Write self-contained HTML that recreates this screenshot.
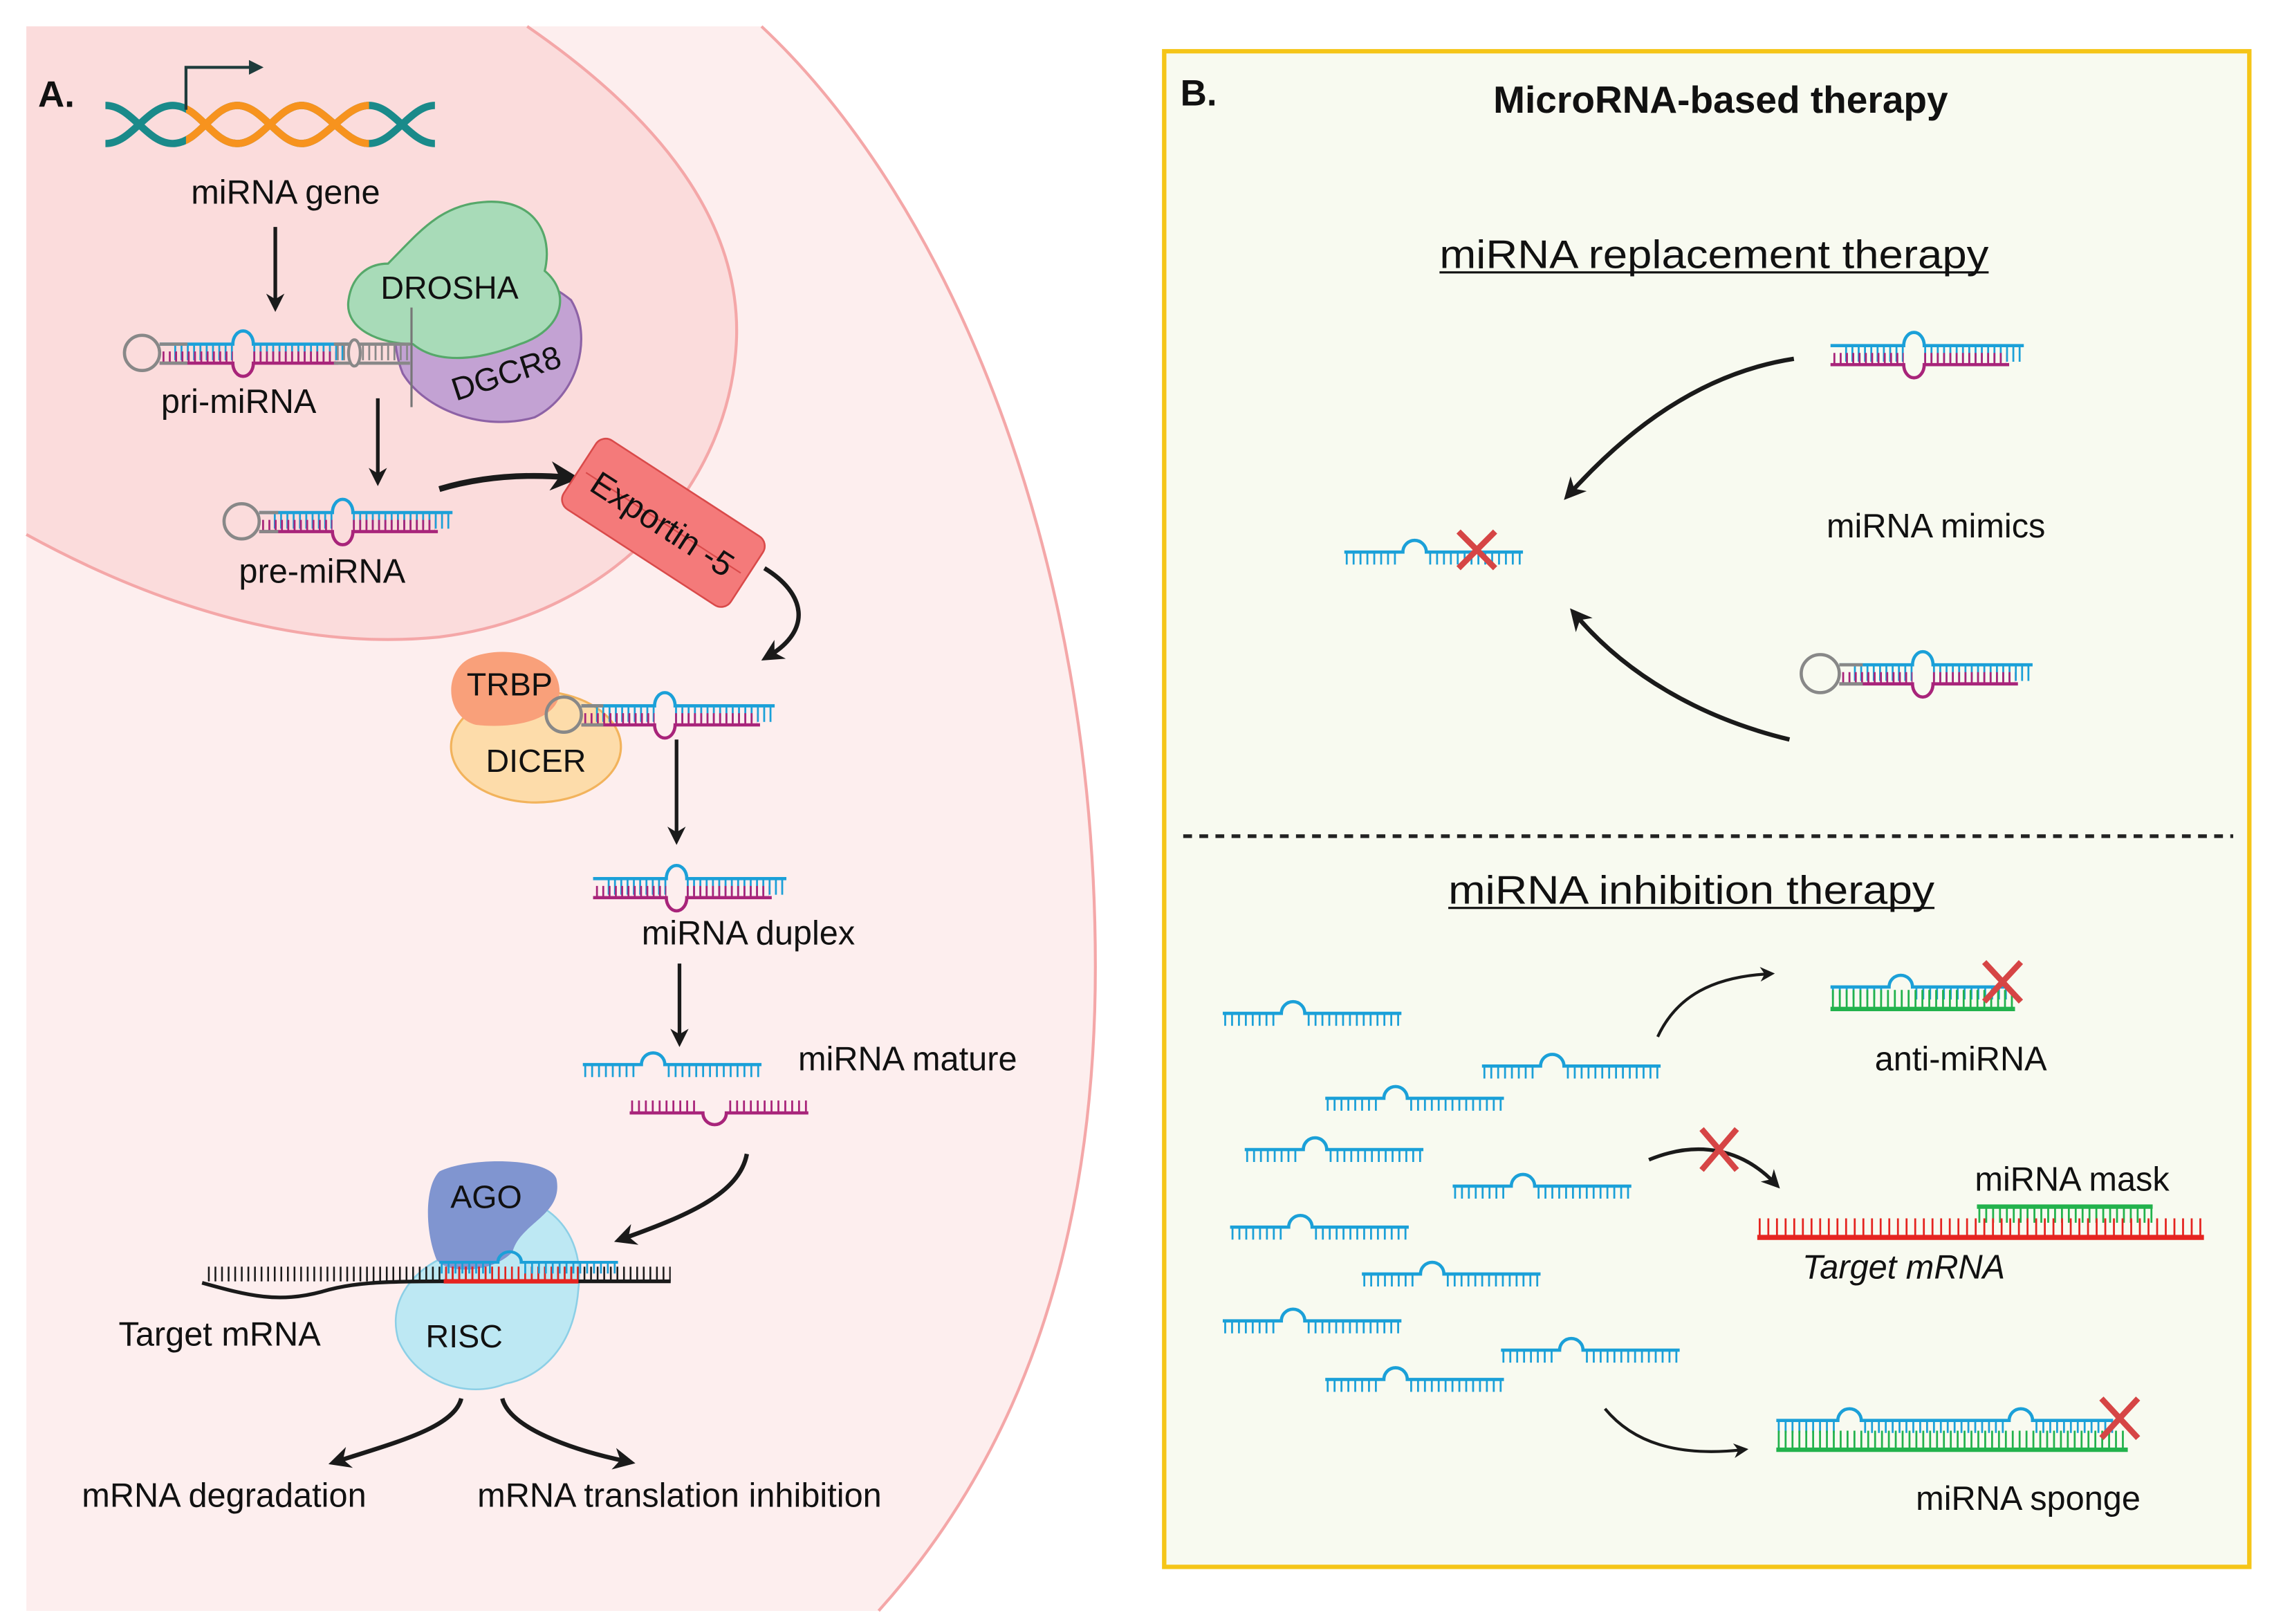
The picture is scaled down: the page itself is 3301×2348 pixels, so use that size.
<!DOCTYPE html>
<html><head><meta charset="utf-8"><style>html,body{margin:0;padding:0;background:#fff}svg{display:block}text{font-family:"Liberation Sans",sans-serif;fill:#111}</style></head><body>
<svg width="3301" height="2348" viewBox="0 0 1559 1109" preserveAspectRatio="none" xmlns="http://www.w3.org/2000/svg">
<defs>
<marker id="ah" viewBox="0 0 10 10" refX="6" refY="5" markerWidth="5" markerHeight="5" orient="auto"><path d="M0,0L10,5L0,10L3,5z" fill="#1a1a1a"/></marker>
<symbol id="mir" overflow="visible"><path d="M0,0H40A8,8 0 0 1 56,0H122" fill="none" stroke="#1ba0d8" stroke-width="2.2"/><line x1="1" x2="38" y1="4.5" y2="4.5" stroke="#1ba0d8" stroke-width="8" stroke-dasharray="1.3 3.4"/><line x1="58" x2="122" y1="4.5" y2="4.5" stroke="#1ba0d8" stroke-width="8" stroke-dasharray="1.3 3.4"/></symbol>
<symbol id="dup" overflow="visible"><path d="M0,0H50A7,9 0 0 1 64,0H132" fill="none" stroke="#1ba0d8" stroke-width="2.2"/><line x1="10" x2="50" y1="6" y2="6" stroke="#1ba0d8" stroke-width="10" stroke-dasharray="1.3 3"/><line x1="64" x2="130" y1="6" y2="6" stroke="#1ba0d8" stroke-width="10" stroke-dasharray="1.3 3"/><path d="M0,13H50A7,9 0 0 0 64,13H122" fill="none" stroke="#a8247a" stroke-width="2.2"/><line x1="2" x2="50" y1="9" y2="9" stroke="#a8247a" stroke-width="8" stroke-dasharray="1.3 3"/><line x1="64" x2="120" y1="9" y2="9" stroke="#a8247a" stroke-width="8" stroke-dasharray="1.3 3"/></symbol>
<clipPath id="mid"><rect x="127" y="60" width="125" height="50"/></clipPath>
</defs>
<path d="M18,18H520C650,140 748,380 748,660C748,860 690,1000 600,1100H18Z" fill="#fdeeee"/>
<path d="M520,18C650,140 748,380 748,660C748,860 690,1000 600,1100" fill="none" stroke="#f4a7a8" stroke-width="2"/>
<path d="M18,18H360C450,80 505,150 503,230C500,330 420,420 300,435C200,445 100,410 18,365Z" fill="#fbdcdc"/>
<path d="M360,18C450,80 505,150 503,230C500,330 420,420 300,435C200,445 100,410 18,365" fill="none" stroke="#f4a7a8" stroke-width="2"/>
<text x="26" y="73" font-size="25" font-weight="bold">A.</text>
<g fill="none" stroke-width="5">
<path d="M72,98C90,98 100,72 118,72S145,98 162,98S190,72 206,72S235,98 252,98S280,72 297,72" stroke="#1a8a8a"/>
<path d="M72,72C90,72 100,98 118,98S145,72 162,72S190,98 206,98S235,72 252,72S280,98 297,98" stroke="#1a8a8a"/>
<g clip-path="url(#mid)"><path d="M72,98C90,98 100,72 118,72S145,98 162,98S190,72 206,72S235,98 252,98S280,72 297,72" stroke="#f7931e"/><path d="M72,72C90,72 100,98 118,98S145,72 162,72S190,98 206,98S235,72 252,72S280,98 297,98" stroke="#f7931e"/></g>
</g>
<path d="M127,75V46H172" fill="none" stroke="#1e3c3c" stroke-width="2"/><path d="M170,41L180,46L170,51z" fill="#1e3c3c"/>
<text x="195" y="139" font-size="23" text-anchor="middle">miRNA gene</text>
<line x1="188" y1="155" x2="188" y2="208" stroke="#1a1a1a" stroke-width="2.5" marker-end="url(#ah)"/>
<path d="M285,180C300,175 360,180 390,205C405,230 395,270 365,285C330,295 290,280 275,255C265,230 270,200 285,180Z" fill="#c3a2d3" stroke="#8d62a6" stroke-width="1.5"/>
<path d="M265,180C285,160 300,140 330,138C365,135 378,160 372,185C390,200 385,225 355,235C330,245 300,250 282,235C260,235 235,225 238,205C240,190 250,180 265,180Z" fill="#a8dbb8" stroke="#56a86a" stroke-width="1.5"/>
<text x="307" y="204" font-size="22" text-anchor="middle">DROSHA</text>
<text x="348" y="262" font-size="22" text-anchor="middle" transform="rotate(-18 348 262)">DGCR8</text>
<circle cx="97" cy="241" r="12" fill="none" stroke="#888" stroke-width="2.2"/>
<use href="#dup" x="109" y="235"/>
<line x1="109" x2="128" y1="235" y2="235" stroke="#888" stroke-width="2.2"/><line x1="109" x2="128" y1="248" y2="248" stroke="#888" stroke-width="2.2"/>
<path d="M228,235H280M228,248H280" stroke="#888" stroke-width="2.2"/><line x1="230" x2="280" y1="241" y2="241" stroke="#888" stroke-width="10" stroke-dasharray="1.3 3"/>
<ellipse cx="242" cy="241" rx="4" ry="9" fill="#fbdcdc" stroke="#888" stroke-width="2"/>
<line x1="281" y1="210" x2="281" y2="278" stroke="#777" stroke-width="1.5"/>
<text x="163" y="282" font-size="23" text-anchor="middle">pri-miRNA</text>
<line x1="258" y1="272" x2="258" y2="327" stroke="#1a1a1a" stroke-width="2.5" marker-end="url(#ah)"/>
<circle cx="165" cy="356" r="12" fill="none" stroke="#888" stroke-width="2.2"/>
<use href="#dup" x="177" y="350"/><path d="M177,350H190M177,363H190" stroke="#888" stroke-width="2.2"/>
<text x="220" y="398" font-size="23" text-anchor="middle">pre-miRNA</text>
<path d="M300,334Q340,322 388,326" fill="none" stroke="#1a1a1a" stroke-width="4" marker-end="url(#ah)"/>
<g transform="rotate(33 453 357)"><rect x="385" y="329" width="136" height="56" rx="8" fill="#f47a7a" stroke="#d94a4a" stroke-width="1.2"/><line x1="390" y1="357" x2="516" y2="357" stroke="#d94a4a"/><text x="453" y="366" font-size="23" text-anchor="middle">Exportin -5</text></g>
<path d="M522,388C550,405 555,430 525,448" fill="none" stroke="#1a1a1a" stroke-width="3" marker-end="url(#ah)"/>
<ellipse cx="366" cy="510" rx="58" ry="38" fill="#fddcaa" stroke="#f2b35c" stroke-width="1.5"/>
<path d="M320,450C340,440 380,445 382,470C384,492 350,498 325,495C305,490 302,460 320,450Z" fill="#f9a07a"/>
<text x="348" y="475" font-size="22" text-anchor="middle">TRBP</text>
<text x="366" y="527" font-size="22" text-anchor="middle">DICER</text>
<circle cx="385" cy="488" r="12" fill="none" stroke="#888" stroke-width="2.2"/>
<use href="#dup" x="397" y="482"/><path d="M397,482H412M397,495H412" stroke="#888" stroke-width="2.2"/>
<line x1="462" y1="505" x2="462" y2="572" stroke="#1a1a1a" stroke-width="2.5" marker-end="url(#ah)"/>
<use href="#dup" x="405" y="600"/>
<text x="511" y="645" font-size="23" text-anchor="middle">miRNA duplex</text>
<line x1="464" y1="658" x2="464" y2="710" stroke="#1a1a1a" stroke-width="2.5" marker-end="url(#ah)"/>
<use href="#mir" x="398" y="727"/>
<path d="M430,760H480A8,8 0 0 0 496,760H552" fill="none" stroke="#a8247a" stroke-width="2.2"/><line x1="431" x2="478" y1="755.5" y2="755.5" stroke="#a8247a" stroke-width="8" stroke-dasharray="1.3 3.4"/><line x1="498" x2="552" y1="755.5" y2="755.5" stroke="#a8247a" stroke-width="8" stroke-dasharray="1.3 3.4"/>
<text x="545" y="731" font-size="23">miRNA mature</text>
<path d="M510,788C505,815 470,830 425,846" fill="none" stroke="#1a1a1a" stroke-width="3" marker-end="url(#ah)"/>
<path d="M330,820C370,810 400,840 395,880C392,920 370,940 345,945C320,955 285,945 272,915C265,890 280,870 300,860C300,840 310,825 330,820Z" fill="#bde8f3" stroke="#8ccfe6" stroke-width="1.2"/>
<path d="M300,800C320,790 375,790 380,805C385,830 355,835 350,855C335,870 305,870 298,860C290,840 290,810 300,800Z" fill="#8095d0"/>
<text x="332" y="825" font-size="22" text-anchor="middle">AGO</text>
<text x="317" y="920" font-size="22" text-anchor="middle">RISC</text>
<path d="M138,876C170,885 190,890 220,882C240,876 260,875 300,875H458" fill="none" stroke="#1a1a1a" stroke-width="2.5"/>
<line x1="142" x2="458" y1="870" y2="870" stroke="#1a1a1a" stroke-width="10" stroke-dasharray="1.2 3.3"/>
<line x1="303" x2="395" y1="875" y2="875" stroke="#e52420" stroke-width="3"/><line x1="304" x2="395" y1="870" y2="870" stroke="#e52420" stroke-width="10" stroke-dasharray="1.2 3.3"/>
<g transform="translate(300,862) scale(1,0.9)"><use href="#mir"/></g>
<text x="150" y="919" font-size="23" text-anchor="middle">Target mRNA</text>
<path d="M315,955C310,975 270,985 230,998" fill="none" stroke="#1a1a1a" stroke-width="3" marker-end="url(#ah)"/>
<path d="M343,955C348,975 390,990 428,998" fill="none" stroke="#1a1a1a" stroke-width="3" marker-end="url(#ah)"/>
<text x="153" y="1029" font-size="23" text-anchor="middle">mRNA degradation</text>
<text x="464" y="1029" font-size="23" text-anchor="middle">mRNA translation inhibition</text>
<rect x="795" y="35" width="741" height="1035" fill="#f8faf0" stroke="#f5c518" stroke-width="3"/>
<text x="806" y="72" font-size="25" font-weight="bold">B.</text>
<text x="1175" y="77" font-size="26" font-weight="bold" text-anchor="middle">MicroRNA-based therapy</text>
<text x="983" y="183" font-size="27" textLength="375" lengthAdjust="spacingAndGlyphs">miRNA replacement therapy</text>
<line x1="983" x2="1358" y1="186" y2="186" stroke="#111" stroke-width="1.5"/>
<use href="#dup" x="1250" y="236"/>
<path d="M1225,245C1160,255 1110,295 1072,337" fill="none" stroke="#1a1a1a" stroke-width="3" marker-end="url(#ah)"/>
<use href="#mir" x="918" y="377"/>
<path d="M996,363L1021,388M1021,363L996,388" stroke="#d64545" stroke-width="4"/>
<text x="1322" y="367" font-size="23" text-anchor="middle">miRNA mimics</text>
<circle cx="1243" cy="460" r="13" fill="none" stroke="#888" stroke-width="2.2"/>
<use href="#dup" x="1256" y="454"/><path d="M1256,454H1272M1256,467H1272" stroke="#888" stroke-width="2.2"/>
<path d="M1222,505C1160,490 1110,460 1076,420" fill="none" stroke="#1a1a1a" stroke-width="3" marker-end="url(#ah)"/>
<line x1="808" x2="1525" y1="571" y2="571" stroke="#222" stroke-width="2.5" stroke-dasharray="6 5"/>
<text x="989" y="617" font-size="27" textLength="332" lengthAdjust="spacingAndGlyphs">miRNA inhibition therapy</text>
<line x1="989" x2="1321" y1="620" y2="620" stroke="#111" stroke-width="1.5"/>
<use href="#mir" x="835" y="692"/><use href="#mir" x="1012" y="728"/><use href="#mir" x="905" y="750"/><use href="#mir" x="850" y="785"/><use href="#mir" x="992" y="810"/><use href="#mir" x="840" y="838"/><use href="#mir" x="930" y="870"/><use href="#mir" x="835" y="902"/><use href="#mir" x="1025" y="922"/><use href="#mir" x="905" y="942"/>
<use href="#mir" x="1250" y="674"/>
<line x1="1250" x2="1376" y1="689" y2="689" stroke="#22b24c" stroke-width="3"/><line x1="1251" x2="1376" y1="682" y2="682" stroke="#22b24c" stroke-width="12" stroke-dasharray="1.3 3.4"/>
<path d="M1355,657L1380,684M1380,657L1355,684" stroke="#d64545" stroke-width="4"/>
<path d="M1132,708C1145,680 1170,667 1208,665" fill="none" stroke="#1a1a1a" stroke-width="2" marker-end="url(#ah)"/>
<text x="1339" y="731" font-size="23" text-anchor="middle">anti-miRNA</text>
<path d="M1126,792C1160,778 1190,785 1212,808" fill="none" stroke="#1a1a1a" stroke-width="2.5" marker-end="url(#ah)"/>
<path d="M1162,771L1186,799M1186,771L1162,799" stroke="#d64545" stroke-width="4"/>
<text x="1415" y="813" font-size="23" text-anchor="middle">miRNA mask</text>
<line x1="1350" x2="1470" y1="824" y2="824" stroke="#22b24c" stroke-width="3"/><line x1="1351" x2="1470" y1="830" y2="830" stroke="#22b24c" stroke-width="10" stroke-dasharray="1.3 3.4"/>
<line x1="1200" x2="1505" y1="845" y2="845" stroke="#e52420" stroke-width="3.5"/><line x1="1201" x2="1505" y1="838" y2="838" stroke="#e52420" stroke-width="12" stroke-dasharray="1.3 4.6"/>
<text x="1300" y="873" font-size="23" font-style="italic" text-anchor="middle">Target mRNA</text>
<path d="M1096,962C1115,985 1145,995 1190,990" fill="none" stroke="#1a1a1a" stroke-width="2" marker-end="url(#ah)"/>
<path d="M1213,970H1255A8,8 0 0 1 1271,970H1372A8,8 0 0 1 1388,970H1443" fill="none" stroke="#1ba0d8" stroke-width="2.2"/>
<line x1="1214" x2="1253" y1="974.5" y2="974.5" stroke="#1ba0d8" stroke-width="8" stroke-dasharray="1.3 3.4"/><line x1="1273" x2="1370" y1="974.5" y2="974.5" stroke="#1ba0d8" stroke-width="8" stroke-dasharray="1.3 3.4"/><line x1="1390" x2="1443" y1="974.5" y2="974.5" stroke="#1ba0d8" stroke-width="8" stroke-dasharray="1.3 3.4"/>
<line x1="1213" x2="1453" y1="990" y2="990" stroke="#22b24c" stroke-width="3"/><line x1="1214" x2="1452" y1="983" y2="983" stroke="#22b24c" stroke-width="12" stroke-dasharray="1.3 3.4"/>
<path d="M1435,955L1460,982M1460,955L1435,982" stroke="#d64545" stroke-width="4"/>
<text x="1385" y="1031" font-size="23" text-anchor="middle">miRNA sponge</text>
</svg>
</body></html>
